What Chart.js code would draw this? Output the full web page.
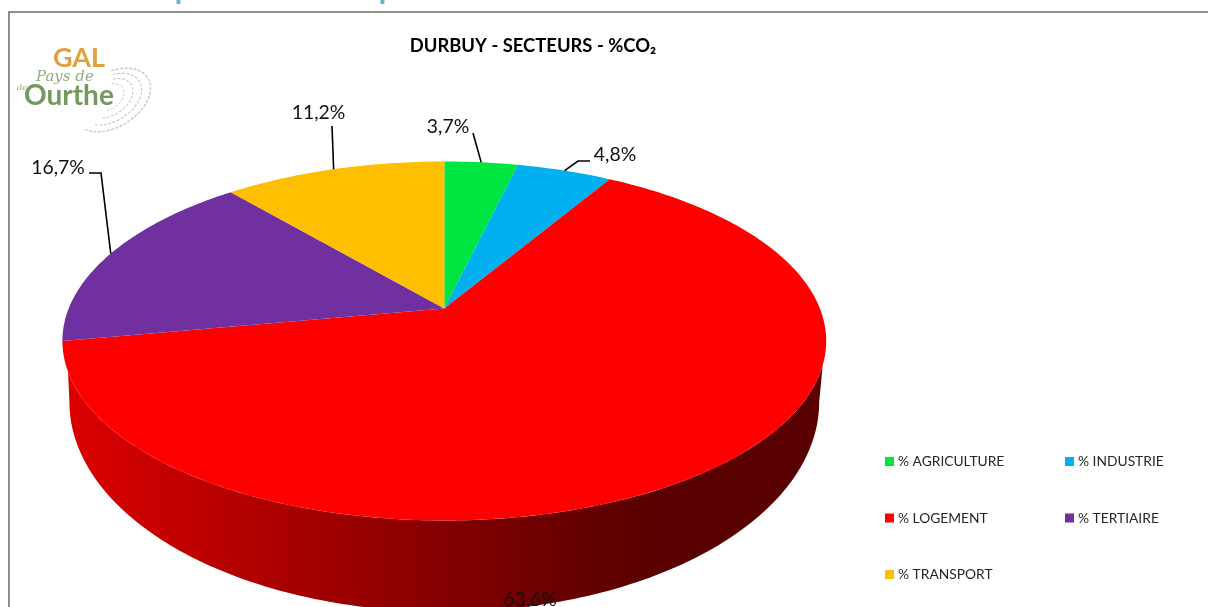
<!DOCTYPE html>
<html lang="fr">
<head>
<meta charset="utf-8">
<title>DURBUY - SECTEURS - %CO₂</title>
<script src="https://cdn.jsdelivr.net/npm/chart.js@4"></script>
<style>
  html, body { margin: 0; padding: 0; background: #fff; overflow: hidden; }
  canvas { display: block; position: absolute; left: 0; top: 0; }
</style>
</head>
<body>
<canvas id="pie" width="1208" height="607"></canvas>
<script>
// Sector shares of CO2 emissions, in percent
const sectors = ['% AGRICULTURE', '% INDUSTRIE', '% LOGEMENT', '% TERTIAIRE', '% TRANSPORT'];
const shares = [3.7, 4.8, 63.6, 16.7, 11.2];
const sectorColors = ['#00E640', '#00B0F0', '#FF0000', '#7030A0', '#FDBF00'];
const chartTitle = 'DURBUY - SECTEURS - %CO₂';
const pageHeading = 'Emission par secteur et par vecteur';

const LABEL_FONT = 'Lato, "Open Sans", sans-serif';
const DEG = Math.PI / 180;

// Projective view of the disc: unit circle to screen, with the near side enlarged.
const TILT = -0.181;
const topFace = { cx: 444.3, cy: 308.5, ax: 375.6, by: 173.6 };
const baseFace = { cx: 444.3, cy: 364, ax: 368.7, by: 203 };
function project(face, theta) {
  const u = Math.sin(theta), w = -Math.cos(theta);
  const d = 1 + TILT * w;
  return { x: face.cx + face.ax * u / d, y: face.cy + face.by * w / d };
}
const clockAngle = a => a + Math.PI / 2;   // arc angles measured from 12 o'clock

// Visible side wall sweep on the upper and lower rims
const WALL_TOP = [108 * DEG, 250 * DEG];
const WALL_BASE = [100.4 * DEG, 259.6 * DEG];
// Shading of the side wall from left to right: [x, brightness]
const WALL_SHADE = [[61, .87], [180, .76], [300, .65], [400, .56], [500, .47], [600, .38], [680, .35], [826, .35]];

function hexRgb(h) {
  return [1, 3, 5].map(i => parseInt(h.substr(i, 2), 16));
}

function drawWall(ctx, arc, color) {
  const s = Math.max(clockAngle(arc.startAngle), WALL_TOP[0]);
  const e = Math.min(clockAngle(arc.endAngle), WALL_TOP[1]);
  if (e <= s) return;
  const span = WALL_TOP[1] - WALL_TOP[0], bspan = WALL_BASE[1] - WALL_BASE[0];
  const toBase = t => WALL_BASE[0] + (t - WALL_TOP[0]) / span * bspan;
  const grad = ctx.createLinearGradient(61, 0, 826, 0);
  const rgb = hexRgb(color);
  WALL_SHADE.forEach(([x, k]) => {
    grad.addColorStop((x - 61) / 765, `rgb(${rgb.map(c => Math.round(c * k)).join(',')})`);
  });
  const n = 160;
  ctx.beginPath();
  for (let i = 0; i <= n; i++) {
    const p = project(topFace, s + (e - s) * i / n);
    i ? ctx.lineTo(p.x, p.y) : ctx.moveTo(p.x, p.y);
  }
  for (let i = n; i >= 0; i--) {
    const p = project(baseFace, toBase(s + (e - s) * i / n));
    ctx.lineTo(p.x, p.y);
  }
  ctx.closePath();
  ctx.fillStyle = grad;
  ctx.fill();
}

function drawSlice(ctx, arc, color) {
  const s = clockAngle(arc.startAngle), e = clockAngle(arc.endAngle);
  const n = Math.max(8, Math.ceil((e - s) / DEG));
  ctx.beginPath();
  ctx.moveTo(topFace.cx, topFace.cy);
  for (let i = 0; i <= n; i++) {
    const p = project(topFace, s + (e - s) * i / n);
    ctx.lineTo(p.x, p.y);
  }
  ctx.closePath();
  ctx.fillStyle = color;
  ctx.fill();
}

// Value labels with their leader lines (bend points lead toward the text)
const calloutLayout = [
  { tx: 448, ty: 127, bends: [[473, 133]] },
  { tx: 615, ty: 155, bends: [[578, 161], [590, 161]] },
  { tx: 530, ty: 600, bends: null },
  { tx: 58, ty: 168, bends: [[101, 173], [89, 173]] },
  { tx: 318.5, ty: 113, bends: [[332, 126]] }
];

const formatShare = v => v.toFixed(1).replace('.', ',') + '%';

const perspectivePie = {
  id: 'perspectivePie',
  beforeDraw(chart) {
    const ctx = chart.ctx;
    ctx.save();
    ctx.fillStyle = '#fff';
    ctx.fillRect(0, 0, chart.width, chart.height);
    // Section heading running off the top of the sheet
    ctx.fillStyle = '#6DB5CA';
    ctx.font = 'bold 32px ' + LABEL_FONT;
    ctx.textBaseline = 'alphabetic';
    ctx.textAlign = 'left';
    ctx.fillText(pageHeading, 41, -1);
    // Frame of the chart block
    ctx.fillStyle = '#8F8F8F';
    ctx.fillRect(8, 11, 1200, 2);
    ctx.fillRect(8, 11, 2, 596);
    ctx.restore();
    drawEmblem(ctx);
  },
  beforeDatasetDraw(chart, args) {
    const ctx = chart.ctx;
    const arcs = chart.getDatasetMeta(args.index).data;
    const colors = chart.data.datasets[args.index].backgroundColor;
    arcs.forEach((arc, i) => drawWall(ctx, arc, colors[i]));
    arcs.forEach((arc, i) => drawSlice(ctx, arc, colors[i]));
    return false;
  },
  afterDatasetsDraw(chart) {
    const ctx = chart.ctx;
    const arcs = chart.getDatasetMeta(0).data;
    const values = chart.data.datasets[0].data;
    ctx.save();
    ctx.strokeStyle = '#000';
    ctx.lineWidth = 1.6;
    calloutLayout.forEach((c, i) => {
      if (!c.bends) return;
      const mid = clockAngle((arcs[i].startAngle + arcs[i].endAngle) / 2);
      const a = project(topFace, mid);
      ctx.beginPath();
      ctx.moveTo(a.x, a.y);
      c.bends.forEach(b => ctx.lineTo(b[0], b[1]));
      ctx.stroke();
    });
    ctx.fillStyle = '#111';
    ctx.font = '19.4px ' + LABEL_FONT;
    ctx.textAlign = 'center';
    ctx.textBaseline = 'middle';
    calloutLayout.forEach((c, i) => ctx.fillText(formatShare(values[i]), c.tx, c.ty));

    // Title
    ctx.fillStyle = '#000';
    ctx.font = 'bold 18.4px ' + LABEL_FONT;
    ctx.fillText(chartTitle, 533, 46);

    // Legend in two columns
    ctx.font = '13.8px ' + LABEL_FONT;
    ctx.textAlign = 'left';
    chart.data.labels.forEach((name, i) => {
      const col = i % 2, row = Math.floor(i / 2);
      const x = 885 + col * 180, y = 457 + row * 56.5;
      ctx.fillStyle = sectorColors[i];
      ctx.fillRect(x, y, 9, 9);
      ctx.fillStyle = '#262626';
      ctx.fillText(name, x + 13, y + 5);
    });
    ctx.restore();
  }
};

// Small emblem in the upper corner of the block
function drawEmblem(ctx) {
  ctx.save();
  ctx.filter = 'blur(0.7px)';
  ctx.lineCap = 'round';
  ctx.strokeStyle = '#C4CAD0';
  ctx.setLineDash([2, 2.5]);
  [[42, 27, 1.4], [34, 22, 1.2], [26, 17, 1.1], [18, 12, 1]].forEach(([rx, ry, lw], i) => {
    ctx.lineWidth = lw;
    ctx.beginPath();
    ctx.ellipse(112 - i * 1.5, 100 - i * 0.8, rx, ry, -0.55, -1.2 + i * 0.1, 2.7 - i * 0.25);
    ctx.stroke();
  });
  ctx.setLineDash([]);
  ctx.textAlign = 'left';
  ctx.textBaseline = 'alphabetic';
  ctx.fillStyle = '#E0A03E';
  ctx.font = 'bold 27px ' + LABEL_FONT;
  ctx.fillText('GAL', 53, 67);
  ctx.fillStyle = '#8FAF7E';
  ctx.font = 'italic 15px "DejaVu Serif", serif';
  ctx.fillText('Pays de', 36, 81);
  ctx.font = 'italic 8px "DejaVu Serif", serif';
  ctx.fillText('de', 17, 90);
  ctx.fillStyle = '#74995F';
  ctx.font = 'bold 28px ' + LABEL_FONT;
  ctx.fillText('Ourthe', 24, 105);
  ctx.restore();
}

new Chart(document.getElementById('pie'), {
  type: 'pie',
  data: {
    labels: sectors,
    datasets: [{ data: shares, backgroundColor: sectorColors, borderWidth: 0 }]
  },
  options: {
    responsive: false,
    animation: false,
    plugins: { legend: { display: false }, tooltip: { enabled: false }, title: { display: false } }
  },
  plugins: [perspectivePie]
});
</script>
</body>
</html>
